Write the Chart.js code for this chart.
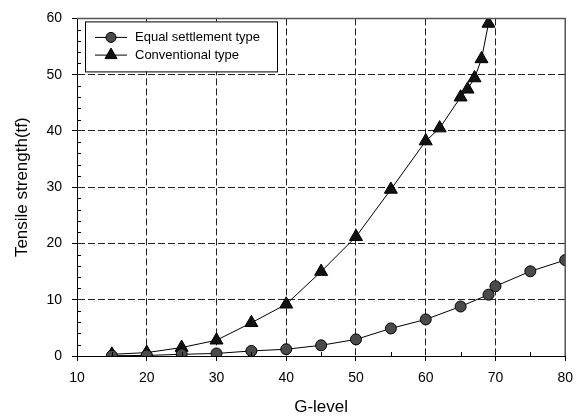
<!DOCTYPE html>
<html>
<head>
<meta charset="utf-8">
<script src="https://cdn.jsdelivr.net/npm/chart.js@4/dist/chart.umd.min.js"></script>
<style>
  html, body { margin: 0; padding: 0; background: #fff; }
  #wrap { width: 582px; height: 416px; }
</style>
</head>
<body>
<div id="wrap"><canvas id="chart"></canvas></div>
<script>
// 資料
const equalG = [15, 20, 25, 30, 35, 40, 45, 50, 55, 60, 65, 69, 70, 75, 80];
const equalTs = [0.05, 0.1, 0.3, 0.45, 0.9, 1.2, 1.9, 2.95, 4.9, 6.5, 8.8, 10.9, 12.4, 15.05, 17.05];
const convG = [15, 20, 25, 30, 35, 40, 45, 50, 55, 60, 62, 65, 66, 67, 68, 69];
const convTs = [0.3, 0.6, 1.5, 2.8, 5.9, 9.2, 15.0, 21.2, 29.6, 38.2, 40.5, 46.0, 47.4, 49.4, 52.8, 59.1];
const xMinorTicks = [15, 25, 35, 45, 55, 65, 75];
const yMinorTicks = [2, 4, 6, 8, 12, 14, 16, 18, 22, 24, 26, 28, 32, 34, 36, 38, 42, 44, 46, 48, 52, 54, 56, 58];

const toPoints = (xs, ys) => xs.map((x, i) => ({ x: x, y: ys[i] }));

// 次刻度、外框、圖例
const framePlugin = {
    id: 'frame',
    afterDatasetsDraw(chart) {
        const { ctx, chartArea: a, scales } = chart;
        ctx.save();
        ctx.strokeStyle = '#000';
        ctx.lineWidth = 1;
        ctx.beginPath();
        xMinorTicks.forEach(v => {
            const px = Math.round(scales.x.getPixelForValue(v)) + 0.5;
            ctx.moveTo(px, a.bottom);
            ctx.lineTo(px, a.bottom - 4);
        });
        yMinorTicks.forEach(v => {
            const py = Math.round(scales.y.getPixelForValue(v)) + 0.5;
            ctx.moveTo(a.left, py);
            ctx.lineTo(a.left + 4, py);
        });
        ctx.stroke();
        ctx.strokeStyle = '#555';
        ctx.lineWidth = 1.5;
        ctx.beginPath();
        ctx.moveTo(a.left, a.top);
        ctx.lineTo(a.right, a.top);
        ctx.lineTo(a.right, a.bottom);
        ctx.stroke();
        ctx.restore();
    },
    afterDraw(chart) {
        const { ctx, chartArea: a } = chart;
        const x0 = a.left + 8, y0 = a.top + 3, w = 192, h = 50;
        ctx.save();
        ctx.fillStyle = '#fff';
        ctx.fillRect(x0, y0, w, h);
        ctx.strokeStyle = '#000';
        ctx.lineWidth = 1;
        ctx.strokeRect(x0 + 0.5, y0 + 0.5, w, h);
        chart.data.datasets.forEach((ds, i) => {
            const cy = y0 + 16 + i * 17.7;
            ctx.strokeStyle = '#000';
            ctx.lineWidth = 1;
            ctx.beginPath();
            ctx.moveTo(x0 + 10, cy);
            ctx.lineTo(x0 + 42, cy);
            ctx.stroke();
            ctx.fillStyle = ds.pointBackgroundColor;
            ctx.strokeStyle = ds.pointBorderColor;
            Chart.helpers.drawPoint(ctx, {
                pointStyle: ds.pointStyle,
                radius: ds.pointStyle === 'circle' ? 5 : 7,
                borderWidth: 1
            }, x0 + 26, cy);
            ctx.fillStyle = '#000';
            ctx.font = '13px "Liberation Sans", Arial, sans-serif';
            ctx.textBaseline = 'middle';
            ctx.fillText(ds.label, x0 + 50, cy);
        });
        ctx.restore();
    }
};

const font = { family: '"Liberation Sans", Arial, sans-serif', size: 14 };

new Chart(document.getElementById('chart'), {
    type: 'line',
    data: {
        datasets: [
            {
                label: 'Equal settlement type',
                data: toPoints(equalG, equalTs),
                borderColor: '#000',
                borderWidth: 1,
                pointStyle: 'circle',
                pointRadius: 5.5,
                pointBackgroundColor: '#4a4a4a',
                pointBorderColor: '#000',
                pointBorderWidth: 1,
                tension: 0
            },
            {
                label: 'Conventional type',
                data: toPoints(convG, convTs),
                borderColor: '#000',
                borderWidth: 1,
                pointStyle: 'triangle',
                pointRadius: 7.5,
                pointBackgroundColor: '#111',
                pointBorderColor: '#000',
                pointBorderWidth: 1,
                tension: 0
            }
        ]
    },
    options: {
        responsive: true,
        maintainAspectRatio: false,
        animation: false,
        layout: { padding: { top: 16, right: 13, left: 0, bottom: 0 } },
        plugins: {
            legend: { display: false },
            tooltip: { enabled: false }
        },
        scales: {
            x: {
                type: 'linear',
                min: 10,
                max: 80,
                afterFit: s => { s.height = 60; },
                ticks: { stepSize: 10, color: '#000', font: font, padding: 9, maxRotation: 0 },
                grid: {
                    color: c => (c.tick.value === 10 || c.tick.value === 80) ? 'rgba(0,0,0,0)' : '#222',
                    lineWidth: 1,
                    tickLength: 5,
                    tickColor: '#000',
                    tickWidth: 1
                },
                border: { color: '#000', width: 1, dash: [7, 3] },
                title: {
                    display: true,
                    text: 'G-level',
                    color: '#000',
                    font: { family: font.family, size: 17, lineHeight: 1 },
                    padding: { top: 0, bottom: 0 }
                }
            },
            y: {
                min: 0,
                max: 60,
                afterFit: s => { s.width = 77; },
                ticks: { stepSize: 10, color: '#000', font: font, padding: 10 },
                grid: {
                    color: c => (c.tick.value === 0 || c.tick.value === 60) ? 'rgba(0,0,0,0)' : '#222',
                    lineWidth: 1,
                    tickLength: 5,
                    tickColor: '#000',
                    tickWidth: 1
                },
                border: { color: '#000', width: 1, dash: [7, 3] },
                title: {
                    display: true,
                    text: 'Tensile strength(tf)',
                    color: '#000',
                    font: { family: font.family, size: 17, lineHeight: 1 },
                    padding: { top: 14, bottom: 0 }
                }
            }
        }
    },
    plugins: [framePlugin]
});
</script>
</body>
</html>
